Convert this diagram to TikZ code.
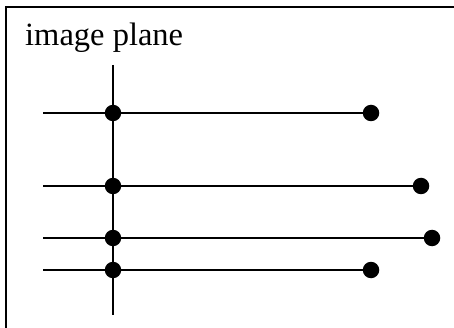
\documentclass[tikz,border=0pt]{standalone}
\usepackage{fontspec}
\setmainfont{Liberation Serif}
\tikzset{
  ray/.style={line width=1.2pt},
  plane/.style={line width=2.6pt},
  frame/.style={line width=1.5pt},
  dot/.style={circle, fill=black, inner sep=0pt, minimum size=16.5pt},
}
\begin{document}
\begin{tikzpicture}[x=1pt,y=-1pt]
\useasboundingbox (0,0) rectangle (454,328);
\coordinate (fbl) at (6,328);
\coordinate (ftl) at (6,7);
\coordinate (ftr) at (454,7);
\draw[frame] (fbl) -- (ftl) -- (ftr);
\node[anchor=base west, inner sep=0pt, font=\fontsize{32.5}{36}\selectfont] (title) at (25,46) {image plane};
\coordinate (ptop) at (113,65);
\coordinate (pbot) at (113,315);
\draw[plane] (ptop) -- (pbot);
\foreach \y/\e [count=\i] in {113/371,186/421,238/432,270/371}{
  \coordinate (s\i) at (43,\y);
  \node[dot] (a\i) at (113,\y) {};
  \node[dot] (e\i) at (\e,\y) {};
  \draw[ray] (s\i) -- (e\i.center);
}
\end{tikzpicture}
\end{document}
